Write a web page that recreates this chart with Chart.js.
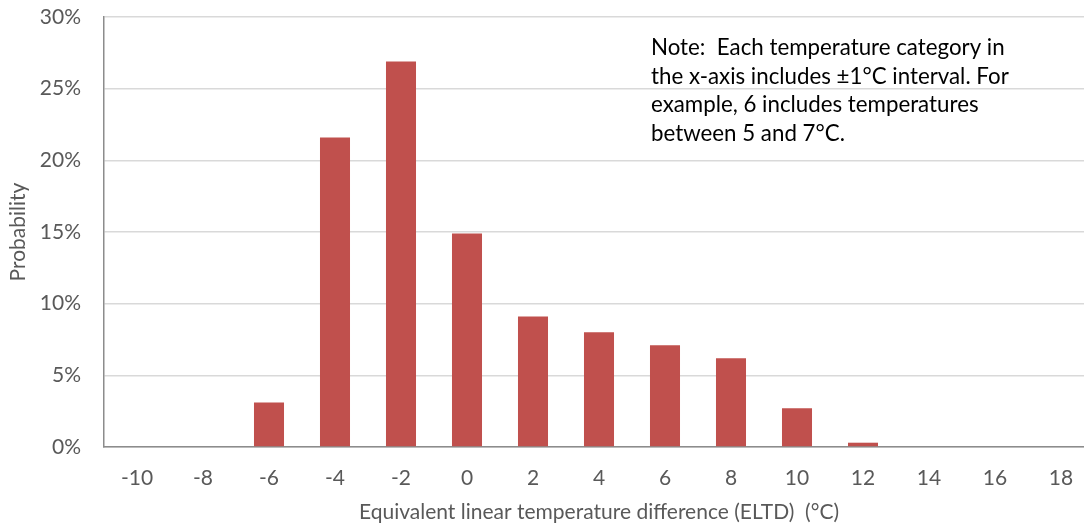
<!DOCTYPE html>
<html>
<head>
<meta charset="utf-8">
<script src="https://cdn.jsdelivr.net/npm/chart.js@4/dist/chart.umd.min.js"></script>
<style>
  html, body { margin: 0; padding: 0; background: #fff; overflow: hidden; }
  #wrap { width: 1100px; height: 531px; position: relative; }
</style>
</head>
<body>
<div id="wrap"><canvas id="myChart"></canvas></div>
<script>
// temperature categories (°C)
const categories = ['-10', '-8', '-6', '-4', '-2', '0', '2', '4', '6', '8', '10', '12', '14', '16', '18'];
// probability for each category (fraction)
const probability = [0, 0, 0.031, 0.216, 0.269, 0.149, 0.091, 0.080, 0.071, 0.062, 0.027, 0.003, 0, 0, 0];
const yTicks = [0, 0.05, 0.10, 0.15, 0.20, 0.25, 0.30];
const noteLines = [
    'Note:  Each temperature category in',
    'the x-axis includes \u00b11\u00b0C interval. For',
    'example, 6 includes temperatures',
    'between 5 and 7\u00b0C.'
];

const FONT = 'Lato, "Open Sans", sans-serif';

// draws the note text box inside the plot
const notePlugin = {
    id: 'note',
    afterDraw(chart) {
        const ctx = chart.ctx;
        const area = chart.chartArea;
        ctx.save();
        ctx.font = '22.3px ' + FONT;
        ctx.fillStyle = '#000';
        ctx.textAlign = 'left';
        ctx.textBaseline = 'alphabetic';
        noteLines.forEach(function (line, i) {
            ctx.fillText(line, area.left + 547, area.top + 38 + i * 28.5);
        });
        ctx.restore();
    }
};

const data = {
    labels: categories,
    datasets: [{
        label: 'Probability',
        data: probability,
        backgroundColor: '#c0504d',
        borderWidth: 0,
        categoryPercentage: 1.0,
        barPercentage: 0.455
    }]
};

const config = {
    type: 'bar',
    data: data,
    plugins: [notePlugin],
    options: {
        responsive: true,
        maintainAspectRatio: false,
        animation: false,
        layout: { padding: { top: 17, right: 6, bottom: 6, left: 0 } },
        plugins: {
            legend: { display: false },
            tooltip: { enabled: false }
        },
        scales: {
            x: {
                afterFit: function (scale) { scale.height = 78; },
                grid: { display: false },
                border: { display: true, color: '#8c8c8c', width: 1.5 },
                ticks: {
                    color: '#595959',
                    font: { family: FONT, size: 21 },
                    padding: 11,
                    maxRotation: 0
                },
                title: {
                    display: true,
                    text: 'Equivalent linear temperature difference (ELTD)  (\u00b0C)',
                    color: '#595959',
                    font: { family: FONT, size: 21 },
                    padding: { top: 11, bottom: 0 }
                }
            },
            y: {
                min: 0,
                max: 0.3,
                afterBuildTicks: function (scale) {
                    scale.ticks = yTicks.map(function (v) { return { value: v }; });
                },
                afterFit: function (scale) { scale.width = 104; },
                grid: {
                    color: '#d9d9d9',
                    lineWidth: 1.5,
                    drawTicks: true,
                    tickLength: 23,
                    tickColor: 'rgba(0,0,0,0)'
                },
                border: { display: true, color: '#8c8c8c', width: 1.5 },
                ticks: {
                    color: '#595959',
                    font: { family: FONT, size: 21 },
                    padding: 0,
                    callback: function (v) { return Math.round(v * 100) + '%'; }
                },
                title: {
                    display: true,
                    text: 'Probability',
                    color: '#595959',
                    font: { family: FONT, size: 21 },
                    padding: { top: 6, bottom: 0 }
                }
            }
        }
    }
};

new Chart(document.getElementById('myChart'), config);
</script>
</body>
</html>
